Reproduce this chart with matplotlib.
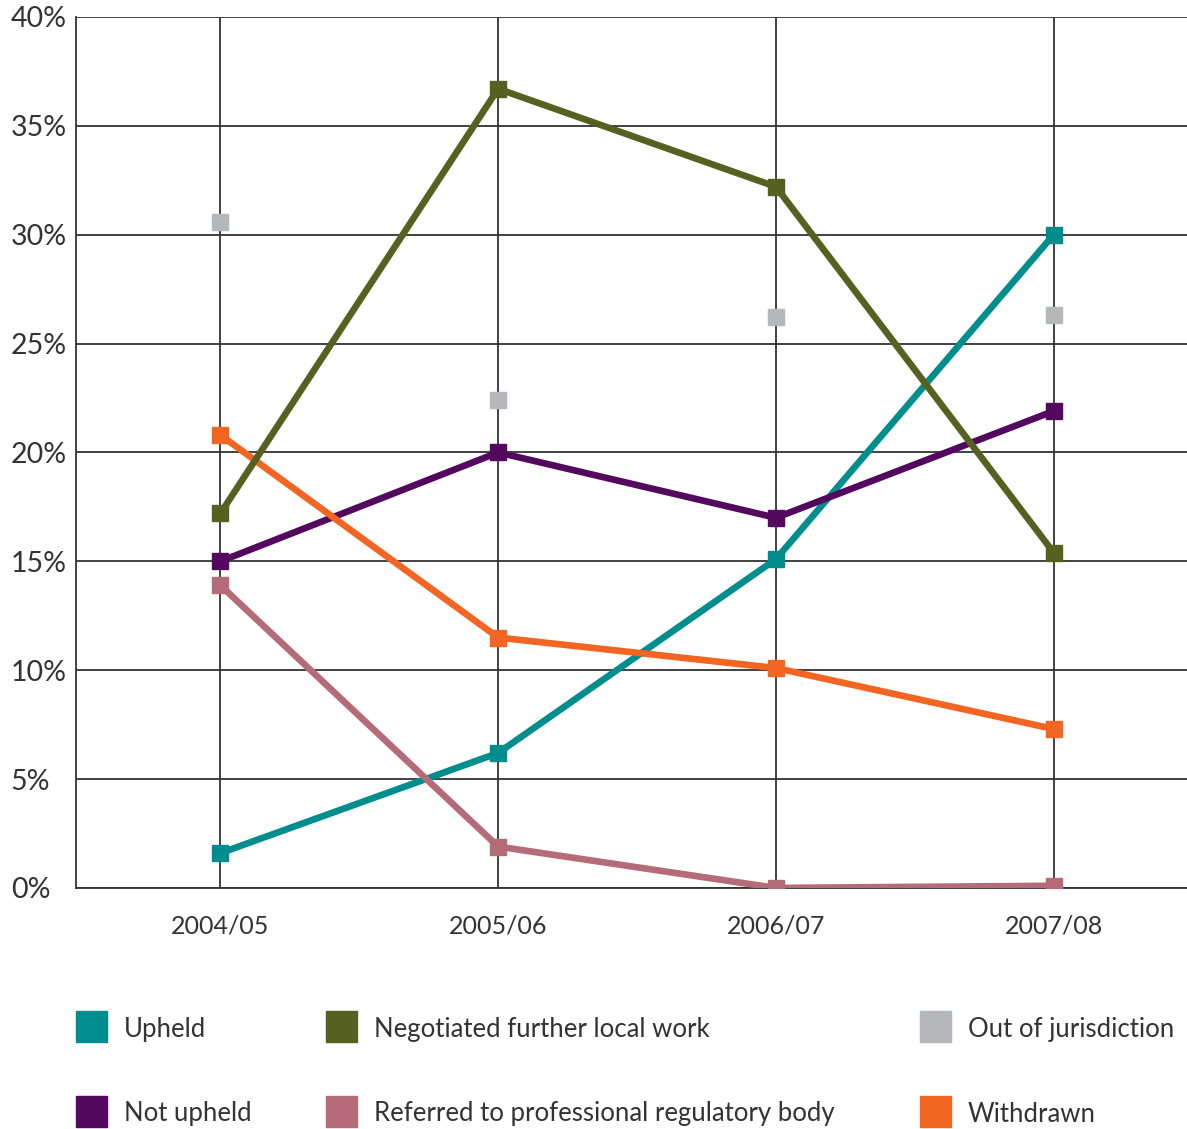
import matplotlib
matplotlib.use("Agg")
import matplotlib.pyplot as plt
from matplotlib.patches import Rectangle

plt.rcParams['font.family'] = ['Lato', 'DejaVu Sans']

# Datos (%)
years = ["2004/05", "2005/06", "2006/07", "2007/08"]
upheld = [1.6, 6.2, 15.1, 30.0]
negotiated = [17.2, 36.7, 32.2, 15.4]
out_of_jurisdiction = [30.6, 22.4, 26.2, 26.3]
not_upheld = [15.0, 20.0, 17.0, 21.9]
referred = [13.9, 1.9, 0.0, 0.1]
withdrawn = [20.8, 11.5, 10.1, 7.3]

colors = {
    "Upheld": "#008d8d",
    "Negotiated further local work": "#566121",
    "Out of jurisdiction": "#b6b7bb",
    "Not upheld": "#530a5e",
    "Referred to professional regulatory body": "#b56c78",
    "Withdrawn": "#f26522",
}

fig = plt.figure(figsize=(11.87, 11.29), dpi=100)
ax = fig.add_axes([0.064, 0.2135, 0.936, 0.7715])

x = list(range(len(years)))

# Rejilla
for v in range(0, 45, 5):
    ax.axhline(v, color="#333333", linewidth=1.3, zorder=1)
for xi in x:
    ax.axvline(xi, color="#333333", linewidth=1.3, zorder=1)

lw = 4.8
ms = 12
series = [
    ("Upheld", upheld),
    ("Not upheld", not_upheld),
    ("Referred to professional regulatory body", referred),
    ("Withdrawn", withdrawn),
    ("Negotiated further local work", negotiated),
]
for name, vals in series:
    ax.plot(x, vals, color=colors[name], linewidth=lw, marker="s",
            markersize=ms, zorder=3, solid_joinstyle="miter")

# Out of jurisdiction solo marcadores
ax.plot(x, out_of_jurisdiction, linestyle="none", marker="s", markersize=ms,
        color=colors["Out of jurisdiction"], zorder=2)

ax.set_xlim(-0.52, 3.48)
ax.set_ylim(0, 40)
ax.set_yticks(range(0, 45, 5))
ax.set_yticklabels([f"{v}%" for v in range(0, 45, 5)], fontsize=20.5, color="#333333")
ax.set_xticks(x)
ax.set_xticklabels(years, fontsize=18, color="#333333")
ax.tick_params(axis="both", length=0)
ax.tick_params(axis="x", pad=19)
for lab in ax.get_yticklabels():
    lab.set_horizontalalignment("left")
ax.tick_params(axis="y", pad=47)

for s in ["top", "right"]:
    ax.spines[s].set_visible(False)
ax.spines["left"].set_color("#333333")
ax.spines["left"].set_linewidth(1.3)
ax.spines["bottom"].set_color("#333333")
ax.spines["bottom"].set_linewidth(1.3)

# Leyenda manual
W, H = 1187, 1129
legend_items = [
    ("Upheld", 76, 1027),
    ("Negotiated further local work", 326, 1027),
    ("Out of jurisdiction", 920, 1027),
    ("Not upheld", 76, 1112),
    ("Referred to professional regulatory body", 326, 1112),
    ("Withdrawn", 920, 1112),
]
for name, px, py in legend_items:
    fig.add_artist(Rectangle((px / W, (H - py - 15) / H), 31 / W, 31 / H,
                             transform=fig.transFigure, color=colors[name]))
    fig.text((px + 48) / W, (H - py - 2) / H, name, fontsize=18.5, color="#333333",
             va="center", ha="left")

fig.savefig("out.png", dpi=100)
